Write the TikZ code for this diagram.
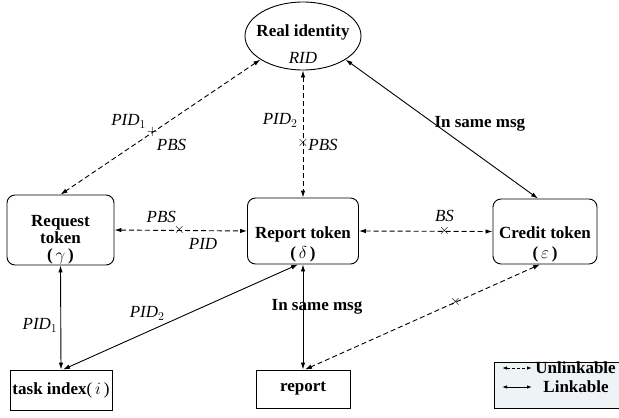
\documentclass[tikz,border=0pt]{standalone}
\usepackage{fontspec}
\setmainfont{Liberation Serif}
\usetikzlibrary{shapes.geometric,arrows.meta}

\definecolor{legendfill}{RGB}{238,243,245}

\begin{document}
\begin{tikzpicture}[x=1pt, y=-1pt, line width=0.9pt,
        every node/.style={font=\fontsize{17}{18}\selectfont},
        >={Latex[length=7pt,width=4.5pt]},
        tokenbox/.style={draw, rounded corners=8pt, inner sep=0pt, align=center, font=\fontsize{17}{18}\selectfont\bfseries},
        plainbox/.style={draw, inner sep=0pt, font=\fontsize{17}{18}\selectfont\bfseries},
        unlink/.style={<->, dash pattern=on 5pt off 3pt},
        link/.style={<->},
        cross/.style={inner sep=0pt, text height=7pt, text depth=0pt, font=\fontsize{14}{14}\selectfont},
        lbl/.style={inner sep=0pt, font=\fontsize{17}{18}\selectfont\itshape},
        msg/.style={inner sep=0pt, font=\fontsize{17}{18}\selectfont\bfseries}]
    \useasboundingbox (0,0) rectangle (619,418);

    % nodes
    \node[draw, ellipse, minimum width=116, minimum height=68] (rid) at (303,36) {};
    \node[align=center, inner sep=0pt] (ridtext) at (303,44.5) {\textbf{Real identity}\\[9pt]\textit{RID}};

    \node[tokenbox, minimum width=107, minimum height=70] (req) at (60.5,230) {\rule{0pt}{30pt}Request\\[-1pt]token\\[-1pt]($\,\gamma\,$)};
    \node[tokenbox, minimum width=111, minimum height=66] (rep) at (303,231) {\rule{0pt}{38pt}Report token\\[2pt]($\,\delta\,$)};
    \node[tokenbox, minimum width=104, minimum height=65] (cred) at (545,231.5) {\rule{0pt}{38pt}Credit token\\[2pt]($\,\varepsilon\,$)};

    \node[plainbox, minimum width=102, minimum height=40] (task) at (61,390) {task index{\mdseries($\,i\,$)}};
    \node[plainbox, minimum width=94, minimum height=38] (rpt) at (303,389) {report};

    % edges
    \draw[unlink] (rid.209) -- (req.north)
        node[cross, pos=.54] (c1) {$+$}
        node[lbl, pos=.54, anchor=base east, xshift=-6pt, yshift=7pt] (l1) {PID$_1$}
        node[lbl, pos=.54, anchor=north west, xshift=4pt, yshift=-6pt] (l2) {PBS};
    \draw[unlink] (rid.south) -- (rep.north)
        node[cross, pos=.57] (c2) {$\times$}
        node[lbl, pos=.57, anchor=base east, xshift=-5pt, yshift=18pt] (l3) {PID$_2$}
        node[lbl, pos=.57, anchor=west, xshift=5pt, yshift=-2pt] (l4) {PBS};
    \draw[link] (rid.331) -- ([xshift=-7pt]cred.north)
        node[msg, pos=.46, anchor=west] (m1) {In same msg};
    \draw[unlink] (req.east) -- (rep.west)
        node[cross, pos=.49] (c3) {$\times$}
        node[lbl, pos=.49, anchor=base east, xshift=-3pt, yshift=8pt] (l5) {PBS}
        node[lbl, pos=.49, anchor=north west, xshift=9pt, yshift=-7pt] (l6) {PID};
    \draw[unlink] (rep.east) -- (cred.west)
        node[cross, pos=.64] (c4) {$\times$}
        node[lbl, pos=.64, anchor=base, yshift=10pt] (l7) {BS};
    \draw[link] (req.south) -- (task.north)
        node[lbl, pos=.62, anchor=base east, xshift=-3pt] (l8) {PID$_1$};
    \draw[link] ([xshift=-5pt]rep.south) -- ([xshift=2pt]task.north)
        node[lbl, pos=.6, anchor=base east, xshift=8pt, yshift=10pt] (l9) {PID$_2$};
    \draw[link] (rep.south) -- (rpt.north)
        node[msg, pos=.4, xshift=14pt] (m2) {In same msg};
    \draw[unlink] ([xshift=-5pt]cred.south) -- ([xshift=2pt]rpt.north)
        node[cross, pos=.36] (c5) {$\times$};

    % legend
    \node[draw, fill=legendfill, minimum width=150, minimum height=46, inner sep=0pt] (legend) at (569,385) {};
    \coordinate (ua) at (502,368);
    \coordinate (ub) at (532,368);
    \coordinate (la) at (502,387);
    \coordinate (lb) at (532,387);
    \draw[unlink, dash pattern=on 3pt off 2pt, >={Latex[length=5pt,width=3.5pt]}] (ua) -- (ub);
    \node[msg, anchor=west] (unl) at (535,368) {Unlinkable};
    \draw[link, >={Latex[length=5pt,width=3.5pt]}] (la) -- (lb);
    \node[msg, anchor=west] (lnk) at (543,387) {Linkable};
\end{tikzpicture}
\end{document}
